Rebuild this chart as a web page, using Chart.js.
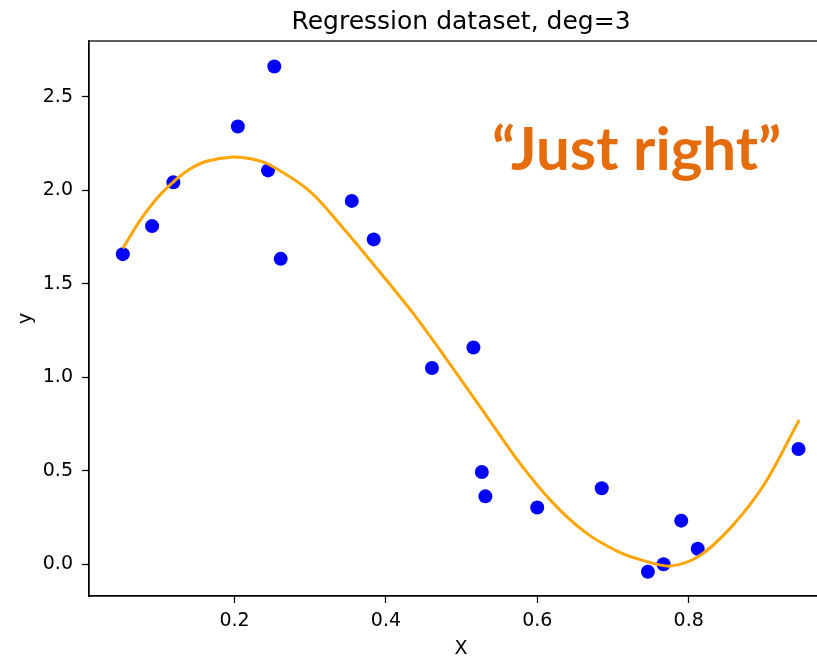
<!DOCTYPE html>
<html>
<head>
<meta charset="utf-8">
<script src="https://cdn.jsdelivr.net/npm/chart.js@4.4.1/dist/chart.umd.min.js"></script>
<style>
  html, body { margin: 0; padding: 0; background: #fff; overflow: hidden; }
  #wrap { width: 840px; height: 657px; }
</style>
</head>
<body>
<div id="wrap"><canvas id="chart" width="840" height="657"></canvas></div>
<script>
// noisy samples
const sampleX = [0.0525, 0.0911, 0.1192, 0.2044, 0.2443, 0.2526, 0.2610, 0.3549, 0.3839, 0.4608,
                 0.5156, 0.5267, 0.5314, 0.5999, 0.6851, 0.7461, 0.7668, 0.7901, 0.8119, 0.9450];
const sampleY = [1.658, 1.808, 2.042, 2.341, 2.106, 2.662, 1.633, 1.943, 1.737, 1.049,
                 1.159, 0.493, 0.363, 0.303, 0.406, -0.040, 0.000, 0.233, 0.083, 0.616];

// degree-3 fit, read along its length
const fitX = [0.0525, 0.0753, 0.0973, 0.1192, 0.1412, 0.1632, 0.1982, 0.2212, 0.2443, 0.2992,
              0.3476, 0.3914, 0.4353, 0.4793, 0.5319, 0.5758, 0.6197, 0.6636, 0.7075, 0.7416,
              0.7756, 0.8129, 0.8567, 0.9007, 0.9459];
const fitY = [1.689, 1.839, 1.956, 2.045, 2.113, 2.155, 2.178, 2.168, 2.140, 1.995,
              1.778, 1.565, 1.345, 1.101, 0.799, 0.546, 0.332, 0.170, 0.066, 0.018,
              -0.010, 0.041, 0.201, 0.433, 0.771];

const xTicks = [0.2, 0.4, 0.6, 0.8];
const yTicks = [0.0, 0.5, 1.0, 1.5, 2.0, 2.5];

const chartTitle = "Regression dataset, deg=3";
const noteText = "\u201cJust right\u201d";
const noteAt = [0.540, 2.107];

Chart.defaults.font.family = "'DejaVu Sans', sans-serif";
Chart.defaults.color = "#000";

// box around the axes, title above it, and the orange caption
const frame = {
  id: "frame",
  afterDraw(chart) {
    const { ctx, chartArea: a, scales } = chart;
    ctx.save();
    ctx.strokeStyle = "#000";
    ctx.lineWidth = 1.25;
    ctx.strokeRect(a.left, a.top, a.right - a.left, a.bottom - a.top);

    ctx.fillStyle = "#000";
    ctx.font = "25px 'DejaVu Sans'";
    ctx.textAlign = "center";
    ctx.textBaseline = "alphabetic";
    ctx.fillText(chartTitle, (a.left + a.right) / 2, a.top - 12.5);

    ctx.fillStyle = "#E46C0A";
    ctx.font = "bold 60px Lato";
    ctx.textAlign = "left";
    ctx.fillText(noteText, scales.x.getPixelForValue(noteAt[0]), scales.y.getPixelForValue(noteAt[1]));
    ctx.restore();
  }
};

const axisGrid = { drawOnChartArea: false, drawTicks: true, tickLength: 7, tickColor: "#000", tickWidth: 1.25 };

new Chart(document.getElementById("chart"), {
  type: "scatter",
  data: {
    datasets: [
      {
        type: "line",
        data: fitX.map((x, i) => ({ x, y: fitY[i] })),
        borderColor: "#FFA500",
        borderWidth: 3,
        pointRadius: 0,
        fill: false,
        tension: 0.3,
        order: 0
      },
      {
        data: sampleX.map((x, i) => ({ x, y: sampleY[i] })),
        backgroundColor: "#0000FF",
        borderWidth: 0,
        pointRadius: 7,
        order: 1
      }
    ]
  },
  options: {
    responsive: false,
    animation: false,
    layout: { padding: { top: 41, right: 5, left: 0, bottom: 0 } },
    plugins: { legend: { display: false }, tooltip: { enabled: false } },
    scales: {
      x: {
        type: "linear",
        min: 0.0078,
        max: 0.9906,
        afterFit: s => { s.height = 61; },
        afterBuildTicks: s => { s.ticks = xTicks.map(v => ({ value: v })); },
        grid: axisGrid,
        border: { display: true, color: "#000", width: 1.25 },
        ticks: { font: { size: 19 }, padding: 7, maxRotation: 0, callback: v => v.toFixed(1) },
        title: { display: true, text: "X", font: { size: 19, lineHeight: 0.8 }, padding: { top: 0, bottom: 0 } }
      },
      y: {
        type: "linear",
        min: -0.170,
        max: 2.798,
        afterFit: s => { s.width = 89; },
        afterBuildTicks: s => { s.ticks = yTicks.map(v => ({ value: v })); },
        grid: axisGrid,
        border: { display: true, color: "#000", width: 1.25 },
        ticks: { font: { size: 19 }, padding: 9, callback: v => v.toFixed(1) },
        title: { display: true, text: "y", font: { size: 19 }, padding: { top: 15, bottom: 0 } }
      }
    }
  },
  plugins: [frame]
});
</script>
</body>
</html>
